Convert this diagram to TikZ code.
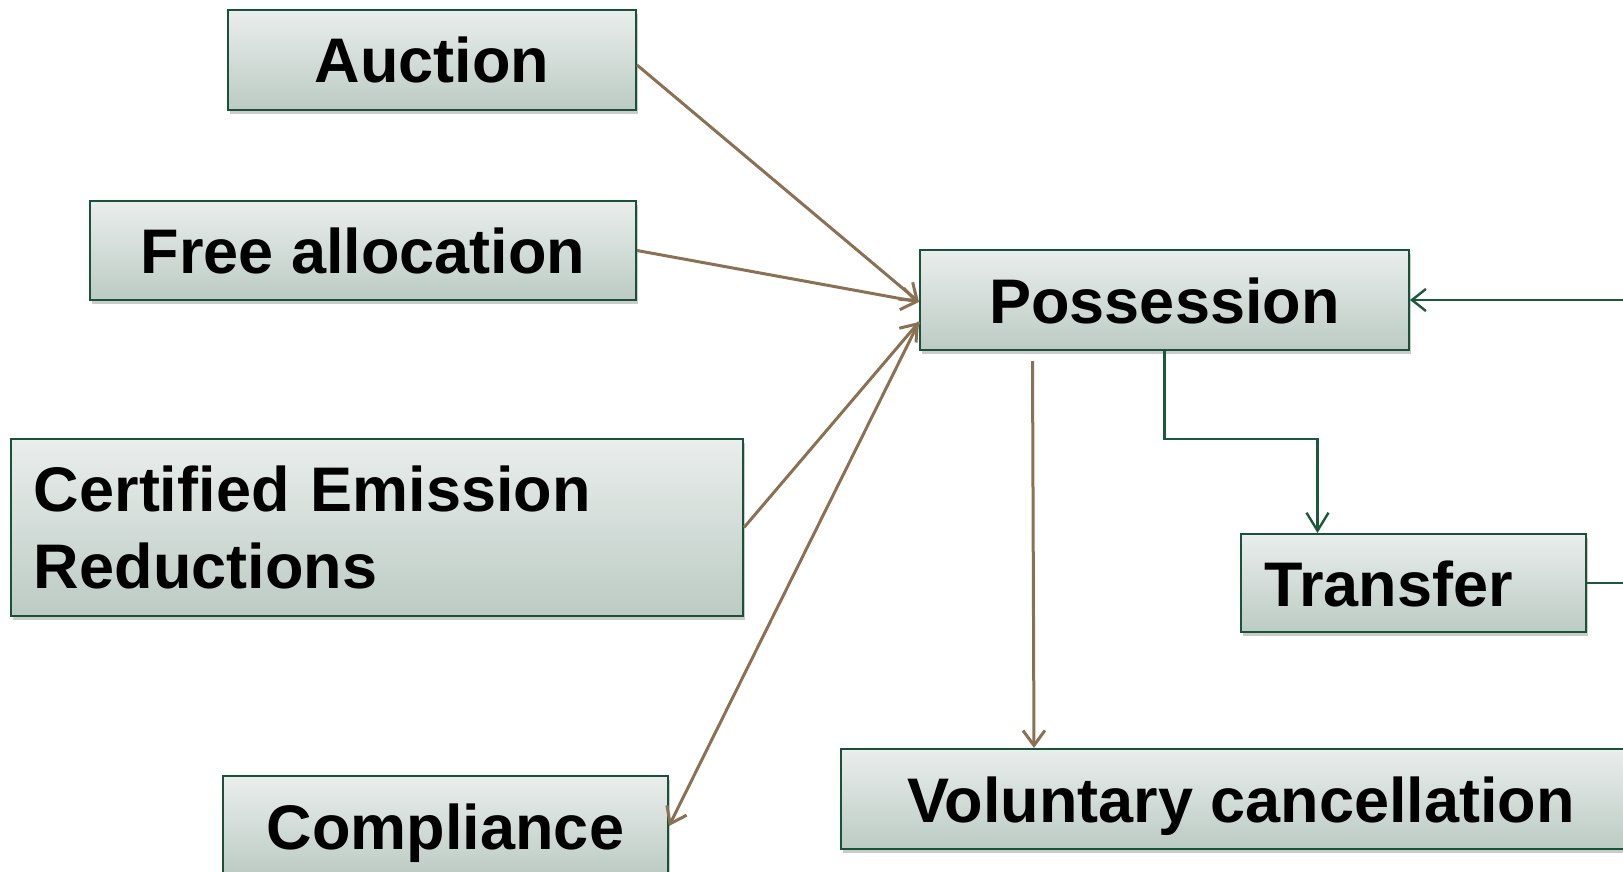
\documentclass[tikz,border=0pt]{standalone}
\usepackage{fontspec}
\setmainfont{Liberation Sans}
\usetikzlibrary{arrows.meta,shadows}
\definecolor{boxtop}{RGB}{234,238,236}
\definecolor{boxbot}{RGB}{188,203,196}
\definecolor{boxedge}{RGB}{24,82,56}
\definecolor{flowbrown}{RGB}{138,113,84}
\definecolor{flowgreen}{RGB}{28,88,60}
\begin{document}
\begin{tikzpicture}[x=1pt, y=-1pt,
        box/.style={draw=boxedge, line width=2pt, top color=boxtop, bottom color=boxbot,
                    drop shadow={shadow xshift=2pt, shadow yshift=-4pt, fill=black!45, opacity=0.45},
                    font=\fontsize{63}{77.6}\selectfont\bfseries, inner xsep=23pt},
        oneline/.style={box, text height=46pt, text depth=0pt},
        brownarrow/.style={draw=flowbrown, line width=3pt, -{Straight Barb[length=15pt,width=22pt,line width=3pt]}},
        greenline/.style={draw=flowgreen, line width=2.4pt}]
        \useasboundingbox (0,0) rectangle (1623,872);
        \clip (0,0) rectangle (1623,872);

        \node[oneline, minimum width=408pt, minimum height=100pt] (auction) at (432,60) {Auction};
        \node[oneline, minimum width=546pt, minimum height=99pt] (free) at (363,250.5) {Free allocation};
        \node[box, minimum width=732pt, minimum height=177pt, text width=686pt, align=left] (cer) at (377,527.5)
            {Certified Emission\\Reductions};
        \node[oneline, minimum width=445pt, minimum height=101pt] (compl) at (445.5,826) {Compliance};

        \node[oneline, minimum width=489pt, minimum height=100pt] (poss) at (1164.5,300) {Possession};
        \node[oneline, minimum width=345pt, minimum height=98pt, text width=299pt, align=left] (transfer) at (1413.5,583) {Transfer};
        \node[oneline, minimum width=800pt, minimum height=100pt] (volun) at (1241,799) {Voluntary cancellation};

        % into possession
        \coordinate (inA) at ([yshift=-2pt]poss.west);
        \coordinate (inB) at ([yshift=-22pt]poss.west);
        \draw[brownarrow] ([yshift=-5pt]auction.east) -- (inA);
        \draw[brownarrow] (free.east) -- (inA);
        \draw[brownarrow] (cer.east) -- (inB);
        \draw[brownarrow] (inB) -- (compl.east);

        % out of possession
        \draw[brownarrow] ([xshift=-132pt,yshift=-10pt]poss.south) -- ([xshift=-207pt]volun.north);
        \draw[greenline, -{Straight Barb[length=18pt,width=22pt,line width=2.4pt]}]
            (poss.south) -- ++(0,88) -| ([xshift=-96pt]transfer.north);
        \draw[greenline, -{Straight Barb[length=14pt,width=22pt,line width=2.4pt]}]
            (transfer.east) -- ++(70,0) |- (poss.east);
\end{tikzpicture}
\end{document}
